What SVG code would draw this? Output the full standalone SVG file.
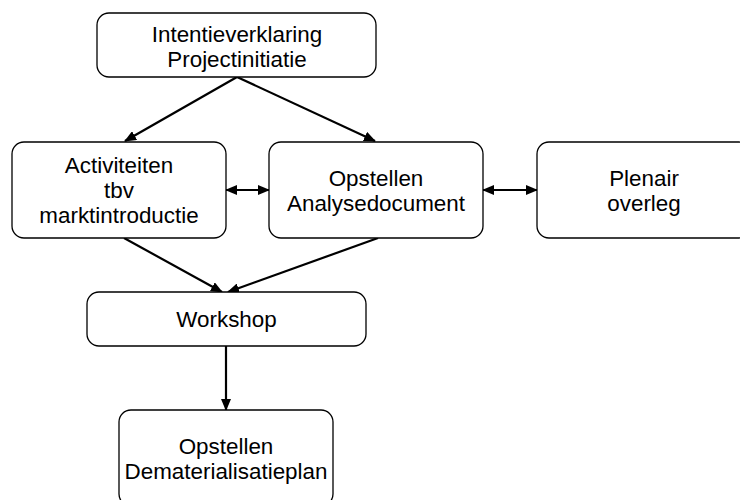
<svg xmlns="http://www.w3.org/2000/svg" width="740" height="500" viewBox="0 0 740 500">
<style>
.box{fill:#fff;stroke:#000;stroke-width:1.3}
.lbl{font-family:"Liberation Sans",Arial,sans-serif;font-size:22.4px;fill:#000;text-anchor:middle}
.con{stroke:#000;stroke-width:2.2;fill:none}
</style>
<defs>
<marker id="ah" markerUnits="userSpaceOnUse" markerWidth="12" markerHeight="10" refX="11" refY="5" orient="auto-start-reverse" viewBox="0 0 12 10">
<path d="M0,0 L12,5 L0,10 z" fill="#000"/>
</marker>
</defs>
<rect width="740" height="500" fill="#fff"/>
<g id="connectors">
<line class="con" x1="237" y1="77" x2="125" y2="141" marker-end="url(#ah)"/>
<line class="con" x1="237" y1="77" x2="375" y2="141" marker-end="url(#ah)"/>
<line class="con" x1="226" y1="190" x2="269" y2="190" marker-start="url(#ah)" marker-end="url(#ah)"/>
<line class="con" x1="483" y1="190" x2="537" y2="190" marker-start="url(#ah)" marker-end="url(#ah)"/>
<line class="con" x1="124" y1="238" x2="222" y2="292" marker-end="url(#ah)"/>
<line class="con" x1="378" y1="238" x2="228" y2="292" marker-end="url(#ah)"/>
<line class="con" x1="226" y1="346" x2="226" y2="410" marker-end="url(#ah)"/>
</g>
<g id="intentieverklaring">
<rect class="box" x="97" y="13" width="279" height="64" rx="12"/>
<text class="lbl" x="237" y="41.5">Intentieverklaring</text>
<text class="lbl" x="237" y="66.5">Projectinitiatie</text>
</g>
<g id="activiteiten">
<rect class="box" x="12" y="142" width="214" height="96" rx="12"/>
<text class="lbl" x="119" y="173">Activiteiten</text>
<text class="lbl" x="119" y="198">tbv</text>
<text class="lbl" x="119" y="223">marktintroductie</text>
</g>
<g id="analysedocument">
<rect class="box" x="269" y="142" width="214" height="96" rx="12"/>
<text class="lbl" x="376" y="185.5">Opstellen</text>
<text class="lbl" x="376" y="210.5">Analysedocument</text>
</g>
<g id="plenair">
<rect class="box" x="537" y="142" width="214" height="96" rx="12"/>
<text class="lbl" x="644" y="185.5">Plenair</text>
<text class="lbl" x="644" y="210.5">overleg</text>
</g>
<g id="workshop">
<rect class="box" x="87" y="292" width="279" height="54" rx="12"/>
<text class="lbl" x="226.5" y="327">Workshop</text>
</g>
<g id="dematerialisatieplan">
<rect class="box" x="119" y="410" width="214" height="96" rx="12"/>
<text class="lbl" x="226" y="453.5">Opstellen</text>
<text class="lbl" x="226" y="478.5">Dematerialisatieplan</text>
</g>
</svg>
